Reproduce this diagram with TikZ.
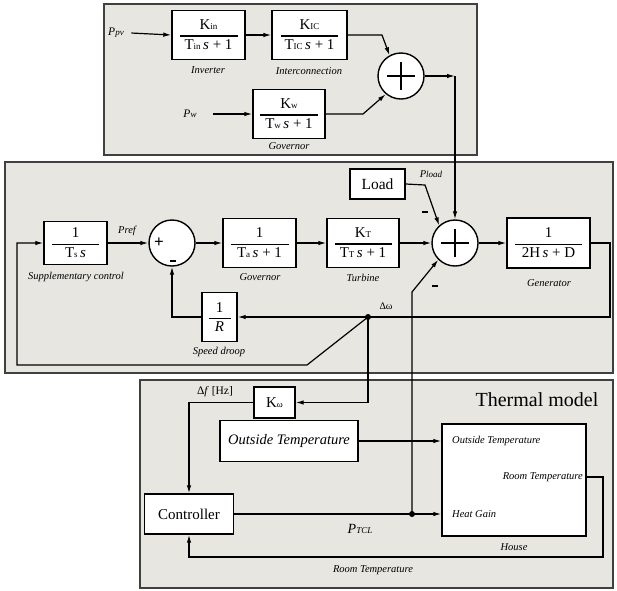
\documentclass[tikz,border=0pt]{standalone}
\usepackage{fontspec}
\setmainfont{Liberation Serif}
\usetikzlibrary{arrows.meta}
\definecolor{panelgray}{RGB}{232,230,225}
\newcommand{\sm}[1]{{\fontsize{9}{9}\selectfont #1}}
\newcommand{\tfn}[3]{$\displaystyle{\makebox[#1]{#2}\above 1.1pt\makebox[#1]{#3}}$}

\begin{document}
\begin{tikzpicture}[x=1pt, y=-1pt, >={Latex[length=8pt,width=4.5pt]},
  tf/.style={draw, fill=white, line width=1.4pt, inner sep=0pt, font=\fontsize{15}{17}\selectfont},
  sum/.style={draw, circle, fill=white, line width=1.4pt, minimum size=46pt, inner sep=0pt},
  lbl/.style={font=\fontsize{10.5}{12}\selectfont\itshape, inner sep=1pt},
  conn/.style={->, line width=1.2pt},
  panel/.style={draw=black!75, fill=panelgray, line width=1.3pt},
  minussign/.style={fill=black, inner sep=0pt, minimum width=6pt, minimum height=1.8pt},
  junction/.style={circle, fill=black, inner sep=0pt, minimum size=6pt}]
  \useasboundingbox (0,0) rectangle (617,590);

  % panels
  \draw[panel] (104,4) rectangle (477,155);
  \draw[panel] (5,162) rectangle (613,373);
  \draw[panel] (140,380) rectangle (613,588);

  % renewable part
  \node[tf, minimum width=73pt, minimum height=49pt] (inv) at (208.5,35) {\tfn{58pt}{K\sm{in}}{T\sm{in}\,\textit{s} + 1}};
  \node[lbl] (invlbl) at (208,70) {Inverter};
  \node[tf, minimum width=75pt, minimum height=49pt] (ic) at (309.5,35) {\tfn{57pt}{K\sm{IC}}{T\sm{IC}\,\textit{s} + 1}};
  \node[lbl] (iclbl) at (309,71) {Interconnection};
  \node[tf, minimum width=72pt, minimum height=49pt] (wind) at (289,114) {\tfn{58pt}{K\sm{w}}{T\sm{w}\,\textit{s} + 1}};
  \node[lbl] (windlbl) at (289,146) {Governor};
  \node[sum] (sumT) at (401,76) {};
  \draw[line width=1.4pt] ([xshift=-14pt]sumT.center) -- ([xshift=14pt]sumT.center);
  \draw[line width=1.4pt] ([yshift=-14pt]sumT.center) -- ([yshift=14pt]sumT.center);
  \node[font=\fontsize{11.5}{12}\selectfont\itshape] (ppv) at (116,33) {P\sm{pv}};
  \node[font=\fontsize{11.5}{12}\selectfont\itshape] (pw) at (190,114) {P\sm{w}};
  \coordinate (icbend) at (382,35);
  \coordinate (windbend) at (363,114);
  \coordinate (topout) at (455,76);

  \draw[conn] ([xshift=4pt]ppv.east) -- (inv.west);
  \draw[conn] ([xshift=13pt]pw.east) -- (wind.west);
  \draw[conn] (inv) -- (ic);
  \draw[conn] (ic.east) -- (icbend) -- (sumT.119);
  \draw[conn] (wind.east) -- (windbend) -- (sumT.230);
  \draw[conn] (sumT) -- (topout);

  % frequency control loop
  \node[tf, minimum width=63pt, minimum height=43pt] (supp) at (75.5,243) {\tfn{47pt}{1}{T\sm{s}\,\textit{s}}};
  \node[lbl] (supplbl) at (76,277) {Supplementary control};
  \node[lbl] (pref) at (127,231) {Pref};
  \node[sum] (sum1) at (172,243) {};
  \node[font=\fontsize{17}{17}\selectfont\bfseries, inner sep=0pt] (plus1) at (159,243) {+};
  \node[minussign] (minus1) at (173,261) {};
  \node[tf, minimum width=73pt, minimum height=49pt] (gov) at (259.5,243) {\tfn{58pt}{1}{T\sm{a}\,\textit{s} + 1}};
  \node[lbl] (govlbl) at (260,277) {Governor};
  \node[tf, minimum width=35pt, minimum height=49pt] (droop) at (219.5,317) {\tfn{22pt}{1}{\textit{R}}};
  \node[lbl] (drooplbl) at (219,352) {Speed droop};
  \node[tf, minimum width=72pt, minimum height=49pt] (turb) at (363,243) {\tfn{57pt}{K\sm{T}}{T\sm{T}\,\textit{s} + 1}};
  \node[lbl] (turblbl) at (363,278) {Turbine};
  \node[sum] (sum2) at (455,243) {};
  \draw[line width=1.4pt] ([xshift=-14pt]sum2.center) -- ([xshift=14pt]sum2.center);
  \draw[line width=1.4pt] ([yshift=-14pt]sum2.center) -- ([yshift=14pt]sum2.center);
  \node[tf, minimum width=83pt, minimum height=50pt] (gen) at (548.5,243) {\tfn{67pt}{1}{2H\,\textit{s} + D}};
  \node[lbl] (genlbl) at (549,283) {Generator};
  \node[tf, minimum width=55pt, minimum height=30pt, font=\fontsize{15.5}{16}\selectfont] (load) at (377.5,184) {Load};
  \node[lbl] (pload) at (431,174) {P\sm{load}};
  \node[minussign] (minusload) at (425,212) {};
  \node[minussign] (minusptcl) at (435,286) {};
  \node[font=\fontsize{10}{11}\selectfont] (dwlbl) at (386,306) {Δω};
  \node[junction] (dwdot) at (368,317) {};
  \coordinate (genbend) at (610,243);
  \coordinate (loadbend) at (425,185);
  \coordinate (diagend) at (307,365);
  \coordinate (loopleft) at (17,365);
  \coordinate (ptclup) at (412,292);

  \draw[conn] (topout) -- (sum2);
  \draw[conn] (supp) -- (sum1);
  \draw[conn] (sum1) -- (gov);
  \draw[conn] (gov) -- (turb);
  \draw[conn] (turb) -- (sum2);
  \draw[conn] (sum2) -- (gen);
  \draw[conn] (gen.east) -- (genbend) |- (droop.east);
  \draw[conn] (droop.west) -| (sum1.south);
  \draw[conn] (load.east) -- (loadbend) -- (sum2.132);
  \draw[conn] (dwdot.center) -- (diagend) -- (loopleft) |- (supp.west);

  % thermal model
  \node[font=\fontsize{20}{22}\selectfont] (thermal) at (537,400) {Thermal model};
  \node[tf, minimum width=41pt, minimum height=31pt] (kw) at (274.5,402.5) {K\sm{ω}};
  \node[font=\fontsize{11.5}{12}\selectfont] (dflbl) at (215,392) {Δ\textit{f} [Hz]};
  \node[tf, minimum width=89pt, minimum height=40pt, font=\fontsize{15}{16}\selectfont] (ctrl) at (189,514) {Controller};
  \node[tf, minimum width=138pt, minimum height=41pt, font=\fontsize{14.5}{16}\selectfont\itshape] (otemp) at (289,441) {Outside Temperature};
  \node[tf, minimum width=144pt, minimum height=112pt] (house) at (514,480) {};
  \node[lbl, anchor=west] (hot) at (451,441) {Outside Temperature};
  \node[lbl, anchor=east] (hrt) at (584,477) {Room Temperature};
  \node[lbl, anchor=west] (hhg) at (451,514) {Heat Gain};
  \node[lbl] (houselbl) at (514,547) {House};
  \node[junction] (ptcldot) at (412,514) {};
  \node[font=\fontsize{14}{14}\selectfont\itshape] (ptcl) at (360,529) {P\sm{TCL}};
  \node[lbl] (rtlbl) at (373,570) {Room Temperature};
  \coordinate (dwdown) at (368,402.5);
  \coordinate (rtright) at (603,477);
  \coordinate (rtbottom) at (603,557);

  \draw[conn] (dwdot.center) -- (dwdown) -- (kw.east);
  \draw[conn] (kw.west) -| (ctrl.north);
  \draw[conn] (otemp.east) -- (otemp.east -| house.west);
  \draw[conn] (ctrl.east) -- (ctrl.east -| house.west);
  \draw[conn] (ptcldot.center) -- (ptclup) -- (sum2.225);
  \draw[conn] (house.east |- hrt) -- (rtright) -- (rtbottom) -| (ctrl.south);
\end{tikzpicture}
\end{document}
